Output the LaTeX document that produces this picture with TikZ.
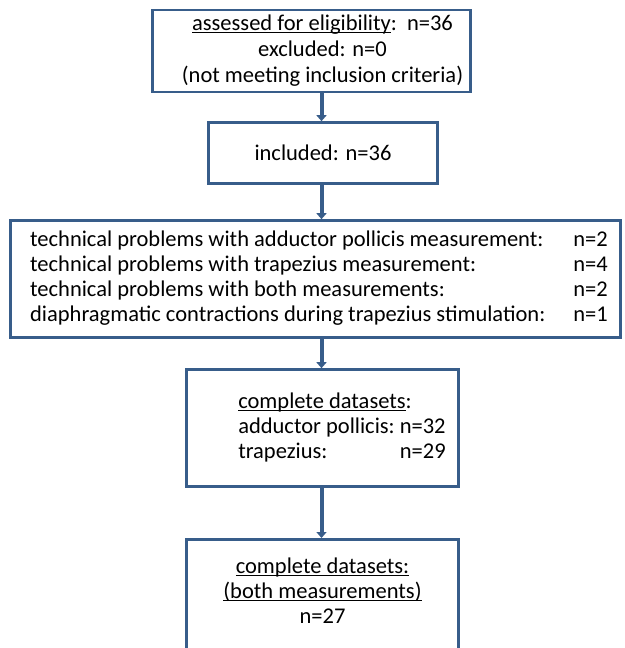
\documentclass[tikz,border=0pt]{standalone}
\usepackage{fontspec}
\setmainfont{Carlito}
\usetikzlibrary{arrows.meta}
\definecolor{boxblue}{HTML}{385D8A}
\newcommand{\flowul}[1]{\setbox0\hbox{#1}\rlap{\rule[-3pt]{\wd0}{1.1pt}}\box0}
\tikzset{
  flowbox/.style={draw=boxblue, line width=2.6pt, fill=white, align=center, inner sep=0pt,
    font=\fontsize{22.5}{25}\selectfont},
  flowarrow/.style={draw=boxblue, line width=4pt, -{Triangle[width=10pt,length=6pt]}},
}
\begin{document}
\begin{tikzpicture}[x=1pt,y=-1pt]
\useasboundingbox (0,0) rectangle (624,648);

\node[flowbox, minimum width=318pt, minimum height=82pt, font=\fontsize{22.5}{26}\selectfont] (assessed) at (311.5,51)
  {\hspace*{22pt}\begin{tabular}{@{}c@{}}\flowul{assessed for eligibility}:~~n=36\\ excluded: n=0\\ (not meeting inclusion criteria)\end{tabular}};
\node[flowbox, minimum width=229pt, minimum height=61pt] (included) at (323,153) {included: n=36};
\node[flowbox, minimum width=610pt, minimum height=117pt] (problems) at (315.5,279)
  {\hspace*{7pt}\begin{tabular}{@{}l@{\hspace{28pt}}l@{}}
  technical problems with adductor pollicis measurement: & n=2\\
  technical problems with trapezius measurement: & n=4\\
  technical problems with both measurements: & n=2\\
  diaphragmatic contractions during trapezius stimulation: & n=1
  \end{tabular}};
\node[flowbox, minimum width=272pt, minimum height=117pt] (complete) at (322.5,428)
  {\hspace*{39pt}\begin{tabular}{@{}l@{\ }r@{}}
  \multicolumn{2}{@{}l@{}}{\flowul{complete datasets}:}\\
  adductor pollicis: & n=32\\
  trapezius: & n=29
  \end{tabular}};
\node[flowbox, minimum width=272pt, minimum height=120pt] (both) at (322.5,599.3)
  {\begin{tabular}{@{}c@{}}\flowul{complete datasets:}\\ \flowul{(both measurements)}\\ n=27\\[12pt]\end{tabular}};

% arrows
\coordinate (axis) at (321.5,0);
\draw[flowarrow] (assessed.south -| axis) -- (included.north -| axis);
\draw[flowarrow] (included.south -| axis) -- (problems.north -| axis);
\draw[flowarrow] (problems.south -| axis) -- (complete.north -| axis);
\draw[flowarrow] (complete.south -| axis) -- (both.north -| axis);
\end{tikzpicture}
\end{document}
